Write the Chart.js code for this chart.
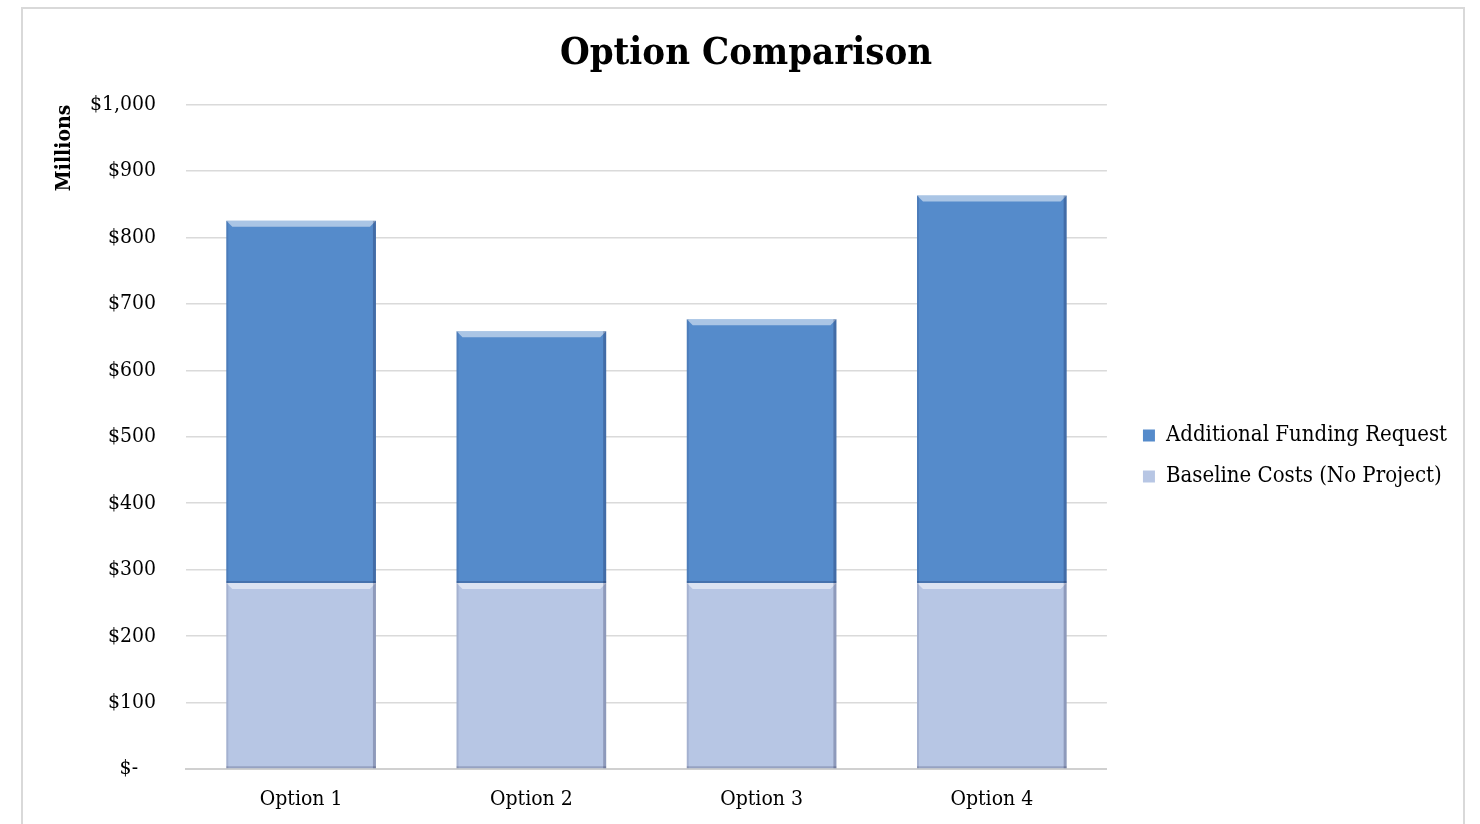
<!DOCTYPE html>
<html>
<head>
<meta charset="utf-8">
<script src="https://cdn.jsdelivr.net/npm/chart.js@4.4.1/dist/chart.umd.min.js"></script>
<style>
  body { margin: 0; background: #fff; }
  #frame { position: absolute; left: 21px; top: 7px; width: 1440px; height: 840px; border: 2px solid #d9d9d9; }
  #wrap { position: absolute; left: 0; top: 0; width: 1480px; height: 824px; }
</style>
</head>
<body>
<div id="frame"></div>
<div id="wrap"><canvas id="optionchart"></canvas></div>
<script>
const categories = ["Option 1", "Option 2", "Option 3", "Option 4"];
const baselineCosts = [280, 280, 280, 280];
const additionalFunding = [545, 379, 397, 583];
const yTickValues = [0, 100, 200, 300, 400, 500, 600, 700, 800, 900, 1000];

const serif = "'DejaVu Serif Condensed', 'Liberation Serif', serif";

// light top strip and dark edges on each bar, like the office bevel
const bevel = {
	id: "bevel",
	afterDatasetsDraw(chart) {
		const ctx = chart.ctx;
		chart.data.datasets.forEach(function (ds, i) {
			const meta = chart.getDatasetMeta(i);
			meta.data.forEach(function (bar) {
				const left = bar.x - bar.width / 2;
				const right = bar.x + bar.width / 2;
				const top = Math.min(bar.y, bar.base);
				const bottom = Math.max(bar.y, bar.base);
				const b = 6;
				ctx.save();
				ctx.fillStyle = "rgba(255,255,255,0.5)";
				ctx.beginPath();
				ctx.moveTo(left, top);
				ctx.lineTo(right, top);
				ctx.lineTo(right - b, top + b);
				ctx.lineTo(left + b, top + b);
				ctx.closePath();
				ctx.fill();
				ctx.fillStyle = "rgba(0,0,40,0.22)";
				ctx.fillRect(right - 3, top, 3, bottom - top);
				ctx.fillStyle = "rgba(0,0,40,0.1)";
				ctx.fillRect(left, top, 2, bottom - top);
				ctx.fillStyle = "rgba(0,0,40,0.18)";
				ctx.fillRect(left, bottom - 2, right - left, 2);
				ctx.restore();
			});
		});
	}
};

// nudge the legend block to where the original sits
const legendShift = {
	id: "legendShift",
	afterLayout(chart) {
		const lg = chart.legend;
		lg.left += 17;
		lg.right += 17;
		lg.top += 31;
		lg.bottom += 31;
	}
};

const ctx = document.getElementById("optionchart").getContext("2d");

let optionChart = new Chart(ctx, {
	type: "bar",
	data: {
		labels: categories,
		datasets: [
			{
				label: "Baseline Costs (No Project)",
				data: baselineCosts,
				backgroundColor: "#b7c6e4",
				borderWidth: 0,
				barPercentage: 0.65,
				categoryPercentage: 1
			},
			{
				label: "Additional Funding Request",
				data: additionalFunding,
				backgroundColor: "#558bcb",
				borderWidth: 0,
				barPercentage: 0.65,
				categoryPercentage: 1
			}
		]
	},
	plugins: [bevel, legendShift],
	options: {
		responsive: true,
		maintainAspectRatio: false,
		animation: false,
		layout: { padding: { left: 52, right: 40, top: 31, bottom: 5 } },
		plugins: {
			title: {
				display: true,
				text: "Option Comparison",
				color: "#000",
				font: { family: serif, size: 38, weight: "bold" },
				padding: { top: 0, bottom: 28 }
			},
			legend: {
				position: "right",
				reverse: true,
				labels: {
					color: "#000",
					font: { family: serif, size: 22 },
					boxWidth: 12,
					boxHeight: 12,
					padding: 19
				}
			},
			tooltip: { enabled: false }
		},
		scales: {
			x: {
				stacked: true,
				afterFit: function (scale) { scale.height = 50; },
				grid: { display: false, drawTicks: false },
				border: { color: "#d0d0d0", width: 2 },
				ticks: {
					color: "#000",
					font: { family: serif, size: 21 },
					padding: 18
				}
			},
			y: {
				stacked: true,
				min: 0,
				max: 1000,
				afterFit: function (scale) { scale.width = 134; },
				afterBuildTicks: function (scale) {
					scale.ticks = yTickValues.map(function (v) { return { value: v }; });
				},
				grid: { color: "#dadada", lineWidth: 1.5, drawTicks: false },
				border: { display: false },
				title: {
					display: true,
					text: "Millions",
					align: "end",
					color: "#000",
					font: { family: serif, size: 21, weight: "bold" },
					padding: 0
				},
				ticks: {
					color: "#000",
					font: { family: serif, size: 21 },
					padding: 30,
					callback: function (value) {
						return value === 0 ? "$-   " : "$" + value.toLocaleString("en-US");
					}
				}
			}
		}
	}
});
</script>
</body>
</html>
